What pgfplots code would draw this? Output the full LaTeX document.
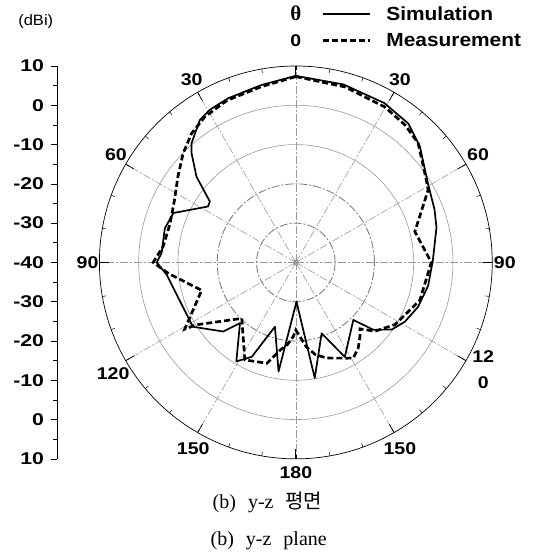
\documentclass[border=0pt]{standalone}
\usepackage{fontspec}
\setmainfont{Liberation Serif}
\setsansfont{Liberation Sans}
\newfontfamily\kr{Noto Sans CJK KR}
\usepackage{pgfplots}
\pgfplotsset{compat=1.18}
\usepackage{pgfplotstable}

% theta measured clockwise from top (deg), gain in dBi
\pgfplotstableread{
th db
0 7.5
15 6.9
29 6.4
39 5.5
47 3.2
59 -0.8
69 -2.2
76 -3.1
89 -5.1
100 -5.8
110 -6.9
118.5 -8.4
125 -10.2
131 -13.9
135 -19.3
152.6 -12.9
160 -20.8
170.7 -10.2
179 -30
189 -11.9
198 -22.8
205 -13.5
211 -10.6
222.6 -19
226.4 -14.5
238 -9.1
264.5 -7
270 -4.6
274 -5.75
284.6 -5.55
292 -6.4
302.5 -13.5
305.3 -13.2
310.8 -6.6
316.3 -1.6
318.8 0.3
326 3.7
330.6 4.6
337.6 5.2
349 6.0
360 7.5
}\simdata

\pgfplotstableread{
th db
0 7.3
15.6 6.4
29.7 5.6
38.4 4.7
45.7 3.5
57.7 -0.7
61.3 -1.6
75.5 -8.7
90 -5.5
107 -7
122 -10.2
131 -13.3
136 -16.5
139 -15.1
144 -13
149 -11.6
152 -12.4
162 -14.4
168 -16
173 -18.4
180 -22.8
182 -21.1
186 -18.9
190 -17.4
196 -13.3
207.6 -12
224 -20.2
238 -10
239 -7
253.5 -15
265 -7.5
270 -3.7
277 -6
287 -6.5
297 -5.3
306 -2.9
314 -0.1
321 2.2
328 3.7
337 4.8
349 5.6
360 7.3
}\measdata

\definecolor{gridgray}{gray}{0.6}
\definecolor{gridgrayd}{gray}{0.5}

\begin{document}
\begin{tikzpicture}
\begin{axis}[
  x=3.93pt, y=3.93pt,
  xmin=-60.8, xmax=50, ymin=-50, ymax=50,
  axis x line=none, axis y line=left,
  y axis line style={-, line width=0.6pt},
  ytick={-50,-40,...,50},
  yticklabels={10,0,-10,-20,-30,-40,-30,-20,-10,0,10},
  minor y tick num=1,
  tick align=outside,
  major tick length=6pt, minor tick length=4pt,
  tick style={black, line width=0.6pt},
  yticklabel style={font=\sffamily\bfseries\fontsize{17}{17}\selectfont, xscale=1.25, xshift=-2pt},
  clip=false,
]
% bounding frame of the picture
\path (axis cs:-75.3,66.8) rectangle (axis cs:63.4,-73.9);

% grid circles
\draw[gridgrayd, line width=0.9pt, dash pattern=on 8pt off 2pt on 2pt off 2pt] (axis cs:0,0) circle[radius=39.3pt];
\draw[gridgrayd, line width=0.9pt, dash pattern=on 8pt off 2pt on 2pt off 2pt] (axis cs:0,0) circle[radius=78.6pt];
\draw[gridgray, line width=0.6pt] (axis cs:0,0) circle[radius=117.9pt];
\draw[gridgray, line width=0.6pt] (axis cs:0,0) circle[radius=157.2pt];
% spokes
\pgfplotsinvokeforeach{0,30,...,330}{
  \draw[gridgray, line width=0.6pt, dash pattern=on 8pt off 2pt on 2pt off 2pt] (axis cs:0,0) -- (axis cs:{50*sin(#1)},{50*cos(#1)});
}
% outer circle and its ticks
\draw[black, line width=0.7pt] (axis cs:0,0) circle[radius=196.5pt];
\pgfplotsinvokeforeach{0,30,...,330}{
  \draw[black, line width=0.7pt] (axis cs:{50*sin(#1)},{50*cos(#1)}) -- (axis cs:{47.6*sin(#1)},{47.6*cos(#1)});
}
\pgfplotsinvokeforeach{0,10,...,350}{
  \draw[black, line width=0.5pt] (axis cs:{50*sin(#1)},{50*cos(#1)}) -- (axis cs:{49*sin(#1)},{49*cos(#1)});
}
\fill[gridgray] (axis cs:0,0) circle[radius=3pt];

% data
\addplot[black, line width=1.7pt, line join=round] table[
  x expr={(\thisrow{db}+40)*sin(\thisrow{th})},
  y expr={(\thisrow{db}+40)*cos(\thisrow{th})}] {\simdata};
\addplot[black, line width=2.7pt, dash pattern=on 6pt off 3pt] table[
  x expr={(\thisrow{db}+40)*sin(\thisrow{th})},
  y expr={(\thisrow{db}+40)*cos(\thisrow{th})}] {\measdata};

% angle labels
\begin{scope}[every node/.style={font=\sffamily\bfseries\fontsize{17}{17}\selectfont, inner sep=0pt, xscale=1.15}]
\node at (axis cs:-26.5,46.4) {30};
\node at (axis cs:26.5,46.4) {30};
\node at (axis cs:-45.8,27.4) {60};
\node at (axis cs:46.4,27.4) {60};
\node at (axis cs:-53,0) {90};
\node at (axis cs:53.2,0) {90};
\node at (axis cs:-46.5,-28.2) {120};
\node at (axis cs:47.7,-24) {12};
\node at (axis cs:47.7,-30.7) {0};
\node at (axis cs:-26.1,-47.3) {150};
\node at (axis cs:26.5,-47.3) {150};
\node at (axis cs:0,-53.6) {180};
\node at (axis cs:0,56.4) {0};
\end{scope}
\node[font=\sffamily\fontsize{15}{15}\selectfont, inner sep=0pt, xscale=1.1] at (axis cs:-66.2,61.2) {(dBi)};
% legend
\node[font=\bfseries\fontsize{21}{21}\selectfont, inner sep=0pt] at (axis cs:0,63.3) {θ};
\begin{scope}[every node/.style={font=\sffamily\bfseries\fontsize{19}{19}\selectfont, inner sep=0pt, xscale=1.1, anchor=west}]
\node at (axis cs:23.0,63.2) {Simulation};
\node at (axis cs:23.0,56.5) {Measurement};
\end{scope}
\draw[black, line width=2pt] (axis cs:6.9,63.2) -- (axis cs:18.8,63.2);
\draw[black, line width=2.7pt, dash pattern=on 6pt off 3pt] (axis cs:6.9,56.5) -- (axis cs:18.8,56.5);

% captions
\node[font=\fontsize{20}{20}\selectfont] at (axis cs:-7.2,-61.0) {(b)\hspace{0.6em}y-z\hspace{0.6em}{\kr 평면}};
\node[font=\fontsize{20}{20}\selectfont] at (axis cs:-6.9,-70.8) {(b)\hspace{0.6em}y-z\hspace{0.6em}plane};
\end{axis}
\end{tikzpicture}
\end{document}
